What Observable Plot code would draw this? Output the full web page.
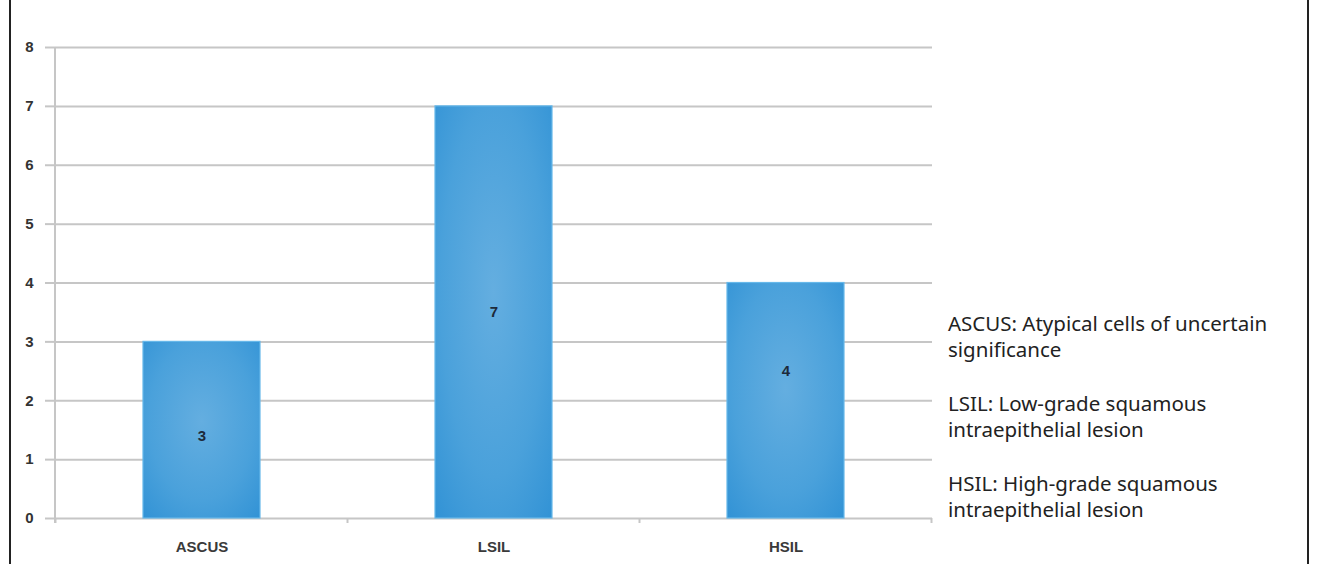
<!DOCTYPE html>
<html>
<head>
<meta charset="utf-8">
<script src="https://cdn.jsdelivr.net/npm/d3@7"></script>
<script src="https://cdn.jsdelivr.net/npm/@observablehq/plot@0.6"></script>
<style>
  html, body { margin: 0; padding: 0; background: #fff; }
  #wrap { position: relative; width: 1319px; height: 564px; overflow: hidden; background: #fff; }
  .border { position: absolute; top: 0; width: 2px; height: 564px; background: #222; }
  #legend { position: absolute; left: 948px; top: 310px; font-family: "Noto Sans", "Open Sans", sans-serif; font-size: 20.5px; line-height: 26px; color: #222; white-space: nowrap; }
  #legend p { margin: 0 0 28px 0; }
  #chart { position: absolute; left: 0; top: 0; }
</style>
</head>
<body>
<div id="wrap">
  <div id="chart"></div>
  <div id="legend"></div>
  <div class="border" style="left:9px"></div>
  <div class="border" style="left:1307px"></div>
</div>
<script>
const categories = ["ASCUS", "LSIL", "HSIL"];
const counts = [3, 7, 4];
const labelPos = [1.4, 3.5, 2.5];
const yTicks = [0, 1, 2, 3, 4, 5, 6, 7, 8];
const legendLines = [
  ["ASCUS: Atypical cells of uncertain", "significance"],
  ["LSIL: Low-grade squamous", "intraepithelial lesion"],
  ["HSIL: High-grade squamous", "intraepithelial lesion"]
];

const data = categories.map((c, i) => ({cat: c, n: counts[i], lp: labelPos[i]}));

const defsMark = () => {
  const svgNS = "http://www.w3.org/2000/svg";
  const g = document.createElementNS(svgNS, "g");
  g.innerHTML = `<defs><radialGradient id="barGrad" cx="50%" cy="45%" r="75%">
    <stop offset="0%" stop-color="#64aee0"/>
    <stop offset="60%" stop-color="#4aa1db"/>
    <stop offset="100%" stop-color="#3192d5"/>
  </radialGradient></defs>`;
  return g;
};

const gridColor = "#c6c6c6";

const frameMark = (index, scales, values, dimensions) => {
  const x = scales.x, y = scales.y;
  const g = d3.create("svg:g");
  const [r0, r1] = x.range();
  const step = x.step ? x.step() : (r1 - r0) / categories.length;
  const y0 = y(0), yTop = y(d3.max(yTicks));
  g.append("line").attr("x1", r0).attr("x2", r0).attr("y1", yTop).attr("y2", y0 + 5)
    .attr("stroke", gridColor).attr("stroke-width", 2);
  const bw = x.bandwidth ? x.bandwidth() : 0;
  const bounds = categories.map(c => x(c) + bw / 2 - step / 2);
  bounds.push(x(categories[categories.length - 1]) + bw / 2 + step / 2);
  bounds.forEach(b => {
    g.append("line").attr("x1", b).attr("x2", b).attr("y1", y0).attr("y2", y0 + 5)
      .attr("stroke", gridColor).attr("stroke-width", 2);
  });
  return g.node();
};

const plot = Plot.plot({
  width: 960,
  height: 564,
  marginLeft: 55,
  marginRight: 28,
  marginTop: 47,
  marginBottom: 46,
  style: {fontFamily: "'Liberation Sans', Arial, sans-serif", background: "transparent"},
  x: {domain: categories, paddingInner: 0.6, paddingOuter: 0.3, label: null},
  y: {domain: [0, 8], label: null},
  marks: [
    defsMark,
    Plot.gridY(yTicks, {stroke: gridColor, strokeOpacity: 1, strokeWidth: 2}),
    Plot.axisY({ticks: yTicks, tickSize: 10, tickPadding: 12, stroke: gridColor, strokeWidth: 2, strokeOpacity: 1, fontSize: 15, fontWeight: "bold", fill: "#333", label: null}),
    Plot.axisX({tickSize: 0, tickPadding: 23, fontSize: 15, fontWeight: "bold", fill: "#3a3a3a", label: null}),
    frameMark,
    Plot.barY(data, {x: "cat", y: "n", fill: "url(#barGrad)", stroke: "#66b8ea", strokeWidth: 1.2}),
    Plot.text(data, {x: "cat", y: "lp", text: d => String(d.n), fontSize: 15, fontWeight: "bold", fill: "#1d2a3a"})
  ]
});
document.getElementById("chart").appendChild(plot);

const legend = document.getElementById("legend");
legendLines.forEach(lines => {
  const p = document.createElement("p");
  p.innerHTML = lines.join("<br>");
  legend.appendChild(p);
});
</script>
</body>
</html>
